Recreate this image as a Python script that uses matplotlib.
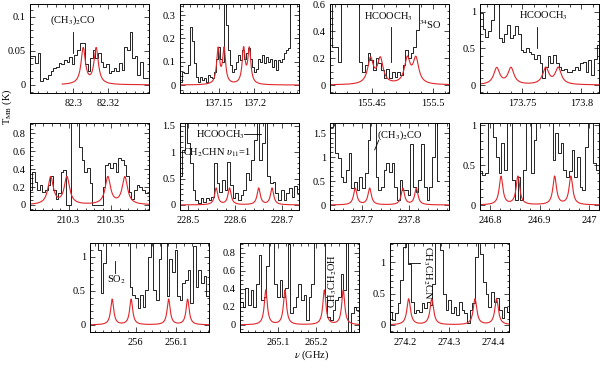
import numpy as np
import matplotlib
matplotlib.use("Agg")
import matplotlib.pyplot as plt
from matplotlib.ticker import FixedLocator, FixedFormatter, MultipleLocator

plt.rcParams["font.family"] = ["Liberation Serif", "DejaVu Serif"]
plt.rcParams["mathtext.fontset"] = "stix"
plt.rcParams["font.size"] = 7.5

# observed spectra: first channel edge (GHz), channel width (GHz), T_MB values (K)
freq_start = [82.2752, 137.0954, 155.4158, 173.714, 210.2538, 228.4807,
              237.632, 246.7796, 255.887, 265.0, 274.164]
chan_width = [0.0015, 0.0028, 0.0022, 0.0023, 0.00308, 0.0057,
              0.0057, 0.00544, 0.00655, 0.00696, 0.00606]

tmb_82 = [0.042, 0.042, 0.032, 0.047, 0.005, 0.010, 0.008, 0.015, 0.020, 0.025,
          0.027, 0.032, 0.030, 0.037, 0.034, 0.041, 0.030, 0.044, 0.051, 0.061,
          0.062, 0.030, 0.020, 0.039, 0.051, 0.039, 0.047, 0.034, 0.027, 0.030,
          0.017, 0.020, 0.025, 0.020, 0.032, 0.022, 0.056, 0.051, 0.078, 0.039,
          0.042, 0.015, 0.034, 0.010, 0.010]
tmb_137 = [0.014, 0.057, 0.05, 0.05, 0.086, 0.25, 0.19, 0.093, 0.036, 0.014,
           0.036, 0.021, 0.029, 0.014, 0.043, 0.036, 0.029, 0.057, 0.114, 0.164,
           0.114, 0.1, 0.5, 0.26, 0.15, 0.086, 0.057, 0.071, 0.1, 0.129,
           0.107, 0.15, 0.114, 0.136, 0.157, 0.114, 0.079, 0.057, 0.071, 0.114,
           0.1, 0.129, 0.093, 0.121, 0.1, 0.114, 0.079, 0.107, 0.064, 0.107,
           0.1, 0.114, 0.136, 0.15, 0.157, 0.5, 0.5, 0.5, 0.5, 0.5]
tmb_155 = [1, 0.28, 0.28, 0.17, 1, 1, 1, 1, 1, 1, 1, 0.17, 0.1, 0.15, 0.235,
           0.185, 0.11, 0.2, 0.16, 0.11, 0.05, 0.12, 0.05, 0.1, 0.06, 0.1,
           0.074, 0.15, 0.26, 0.2, 0.235, 0.28, 0.41, 1, 1, 1, 1, 1, 1, 1, 1,
           1, 1, 1, 1]
tmb_173 = [0.98, 0.77, 0.66, 0.73, 0.89, 1.2, 1.2, 0.64, 0.59, 0.70, 0.82, 0.64,
           0.68, 0.80, 0.70, 0.48, 0.45, 0.50, 0.45, 0.42, 0.36, 0.41, 0.30, 0.09,
           0.25, 0.39, 0.30, 0.41, 0.30, 0.25, 0.20, 0.22, 0.18, 0.18, 0.20, 0.25,
           0.21, 0.30, 0.32, 0.18, 0.34, 0.14, 0.36, 0.55, 0.80]
tmb_210 = [0.17, 0.37, 0.26, 0.17, 0.22, 0.15, 0.17, 0.22, 0.32, 0.17, 0.07, 0.13,
           0.37, 0.39, 0, 0, 2, 2, 2, 0.65, 0.5, 0.37, 0.41, 0.24, 0, 0, 0, 0,
           0.2, 0.45, 0.47, 0.41, 0.47, 0.37, 0.52, 0.5, 0.45, 0.32, 0.15, 0.07,
           0.17, 0.22, 0.2, 0.17, 0.13, 0.13]
tmb_228 = [0.54, 1.04, 2, 1.17, 0.79, 0.28, 0.09, 0.03, 0.13, 0.06, 0.13, 0.09,
           0.16, 0.79, 0.41, 0.25, 0.47, 0.28, 0.82, 0.38, 0.13, 0.22, 0.09, 0.19,
           0.28, 0.6, 0.47, 0.85, 1.23, 2, 0.85, 1.17, 2, 0.54, 0.41, 0.44, 0.22,
           0.09, 0.28, 0.09, 0.22, 0.32, 0.16, 0.35, 0.22]
tmb_237 = [1.63, 2, 1.08, 0.97, 0.59, 0.49, 0.73, 1.08, 0.35, 0.49, 0.31, 0.59,
           0.35, 0.66, 1.35, 2, 2, 0.59, 0.31, 0.38, 0.73, 0.87, 0.69, 0.87, 0.38,
           0.1, 0.52, 0.31, 0.31, 0.21, 1.28, 0.38, 0.28, 0.52, 1.28, 0.38, 0.1,
           0.38, 1.0, 2, 0.5]
tmb_246 = [0.42, 0.37, 0.4, 2, 2, 0.85, 0.6, 0.4, 0.77, 0.44, 2, 2, 0.31, 0.06,
           0.35, 0.06, 0.44, 2, 2, 0.4, 0.81, 2, 2, 2, 2, 2, 2, 0.56, 0.9, 0.65,
           0.77, 0.44, 0.35, 0.42, 0.69, 0.35, 0.6, 0.23, 0.19, 0.73, 2, 2, 0.52,
           0.44, 0.44]
tmb_256 = [2, 2, 2, 1.1, 0.47, 0.9, 2, 2, 2, 2, 2, 2, 2, 2, 2, 0.56, 0.44, 0.39,
           0.25, 0.44, 0.27, 0.51, 1.0, 2, 0.51, 0.37, 0.96, 2, 1.2, 0.42, 0.96,
           0.78, 1.1, 0.42, 0.37, 0.61, 0.66, 0.81, 0.32, 1.15, 0.56, 0.81, 0.61,
           0.71, 0.42, 0.51]
tmb_265 = [0.25, 0.2, 0.41, 0.22, 0.39, 0.2, 0.46, 0.78, 0.28, 0.31, 0.65, 2, 2,
           0.46, 0.31, 0.5, 0.31, 0.41, 0.9, 0.13, 0.2, 0.31, 0.46, 0.28, 0.33,
           0.06, 0.31, 0.46, 2, 2, 2, 2, 0.31, 0.09, 0.06, 0.17, 0.28, 0.31, 0.57,
           0.39, 2, -1, 0.13, 0.2, 0.17]
tmb_274 = [0.21, 0.08, 0.19, 0.35, 0.72, 1.25, 2, 0.98, 0.37, 0.19, 0.24, 0.21,
           0.35, 0.27, 0.37, 0.32, 0.66, 2, 2, 1.2, 0.5, 0.24, 0.4, 0.19, 0.29,
           0.16, 0.37, 0.24, 0.19, 0.03, 0.24, 0.35, 1.09, 2, 1.14, 0.69, 0.5,
           0.29, 0.53, 0.37, 0.43, 0.24, 0.11, 0.29, 0.21]

# model line list (GHz), peak (K) and half width (GHz) per panel
lines_82 = [82.3057, 82.3131]
lines_137 = [137.1492, 137.1576, 137.185, 137.193]
lines_155 = [155.449, 155.457, 155.479, 155.486]
lines_173 = [173.7282, 173.7403, 173.7698, 173.7804]
lines_210 = [210.2789, 210.298, 210.3462, 210.3662]
lines_228 = [228.5593, 228.5878, 228.650, 228.6786]
lines_237 = [237.6857, 237.7163, 237.7869, 237.8156]
lines_246 = [246.8224, 246.8565, 246.9306, 246.9633]
lines_256 = [255.942, 255.989, 256.082, 256.129]
lines_265 = [265.0679, 265.1183, 265.2219, 265.2715]
lines_274 = [274.2075, 274.260, 274.358, 274.407]
model_peak = [0.053, 0.15, 0.185, 0.225, 0.305, 0.315, 0.345, 0.355, 0.375, 0.385, 0.415]
model_width = [0.0015, 0.0025, 0.0028, 0.0031, 0.0038, 0.0041,
               0.0043, 0.0044, 0.0046, 0.0048, 0.0049]
model_from = [82.2937, None, None, None, None, None, None, None, None, None, None]

x_lims = [(82.275, 82.343), (137.095, 137.262), (155.416, 155.513), (173.714, 173.815),
          (210.254, 210.394), (228.481, 228.735), (237.632, 237.885), (246.78, 247.02),
          (255.887, 256.182), (265.0, 265.313), (274.164, 274.434)]
y_lims = [(-0.012, 0.119), (-0.034, 0.348), (-0.059, 0.6), (-0.109, 1.105),
          (-0.056, 0.913), (-0.095, 1.55), (-0.104, 1.71), (-0.062, 1.025),
          (-0.103, 1.2), (-0.078, 0.91), (-0.112, 1.31)]
x_ticks = [[82.3, 82.32], [137.15, 137.2], [155.45, 155.5], [173.75, 173.8],
           [210.3, 210.35], [228.5, 228.6, 228.7], [237.7, 237.8], [246.8, 246.9, 247],
           [256, 256.1], [265.1, 265.2], [274.2, 274.3, 274.4]]
y_ticks = [[0, 0.05, 0.1], [0, 0.1, 0.2, 0.3], [0, 0.2, 0.4, 0.6], [0, 0.5, 1],
           [0, 0.2, 0.4, 0.6, 0.8], [0, 0.5, 1, 1.5], [0, 0.5, 1, 1.5], [0, 0.5, 1],
           [0, 0.5, 1], [0, 0.2, 0.4, 0.6, 0.8], [0, 0.5, 1]]

spectra = [tmb_82, tmb_137, tmb_155, tmb_173, tmb_210, tmb_228,
           tmb_237, tmb_246, tmb_256, tmb_265, tmb_274]
model_lines = [lines_82, lines_137, lines_155, lines_173, lines_210, lines_228,
               lines_237, lines_246, lines_256, lines_265, lines_274]

W, H = 600.0, 368.0
lefts = [29.5, 179.5, 330, 480, 29.5, 179.5, 330, 480, 90, 240, 389.5]
bottoms = [93, 93, 93, 93, 210, 210, 210, 210, 332, 332, 332]
heights = [89, 89, 89, 89, 87, 87, 87, 87, 89, 89, 89]

red = "#e0262b"


def minor_step(step):
    lead = float("%.0e" % step)
    while lead >= 10:
        lead /= 10
    while lead < 1:
        lead *= 10
    return step / 4 if round(lead) == 2 else step / 5


fig = plt.figure(figsize=(6, 3.68), dpi=100)
axes = []
for i in range(11):
    ax = fig.add_axes([lefts[i] / W, 1 - bottoms[i] / H, 119 / W, heights[i] / H])
    axes.append(ax)
    vals = np.array(spectra[i])
    f = freq_start[i] + chan_width[i] * (np.arange(len(vals)) + 0.5)
    ax.step(f, vals, where="mid", color="k", lw=0.6)

    lo = model_from[i] if model_from[i] is not None else x_lims[i][0]
    nu = np.linspace(lo, x_lims[i][1], 1500)
    model = np.zeros_like(nu)
    for c in model_lines[i]:
        model += model_peak[i] / (1 + ((nu - c) / model_width[i]) ** 2)
    ax.plot(nu, model, color=red, lw=0.8)

    ax.set_xlim(*x_lims[i])
    ax.set_ylim(*y_lims[i])
    xt, yt = x_ticks[i], y_ticks[i]
    ax.xaxis.set_major_locator(FixedLocator(xt))
    ax.xaxis.set_major_formatter(FixedFormatter(["%g" % v for v in xt]))
    ax.yaxis.set_major_locator(FixedLocator(yt))
    ax.yaxis.set_major_formatter(FixedFormatter(["%g" % v for v in yt]))
    ax.xaxis.set_minor_locator(MultipleLocator(minor_step(round(xt[1] - xt[0], 6))))
    ax.yaxis.set_minor_locator(MultipleLocator(minor_step(yt[1] - yt[0])))
    ax.tick_params(which="both", direction="in", top=True, right=True, width=0.5)
    ax.tick_params(which="major", length=3.5)
    ax.tick_params(which="minor", length=1.8)
    ax.tick_params(axis="x", pad=4)
    ax.tick_params(axis="y", pad=3)
    for s in ax.spines.values():
        s.set_linewidth(0.7)

lab = dict(fontsize=7.5)
# annotations
ax = axes[0]
ax.text(82.3, 0.085, r"(CH$_3$)$_2$CO", ha="center", va="bottom", **lab)
ax.plot([82.3, 82.3], [0.047, 0.078], color="k", lw=0.6)
ax = axes[2]
ax.text(155.464, 0.46, r"HCOOCH$_3$", ha="center", va="bottom", **lab)
ax.plot([155.466, 155.466], [0.17, 0.43], color="k", lw=0.6)
ax.text(155.4975, 0.45, r"$^{34}$SO", ha="center", va="center", **lab)
ax = axes[3]
ax.text(173.768, 0.86, r"HCOOCH$_3$", ha="center", va="bottom", **lab)
ax.plot([173.7627, 173.7627], [0.5, 0.79], color="k", lw=0.6)
ax = axes[5]
ax.text(228.568, 1.33, r"HCOOCH$_3$", ha="center", va="center", **lab)
ax.plot([228.619, 228.654], [1.34, 1.34], color="k", lw=0.6)
ax.text(228.489, 0.98, r"CH$_2$CHN $\upsilon_{11}$=1", ha="left", va="center", **lab)
ax = axes[6]
ax.text(237.781, 1.46, r"(CH$_3$)$_2$CO", ha="center", va="center", **lab)
ax.plot([237.7356, 237.727], [1.35, 1.15], color="k", lw=0.6)
ax = axes[8]
ax.text(255.953, 0.66, r"SO$_2$", ha="center", va="center", **lab)
ax.plot([255.948, 255.948], [0.76, 0.93], color="k", lw=0.6)
ax = axes[9]
ax.text(265.245, 0.49, r"CH$_3$CH$_2$OH", rotation=90, ha="center", va="center", **lab)
ax = axes[10]
ax.text(274.249, 0.83, r"CH$_3$CH$_2$CN", rotation=270, ha="center", va="center", **lab)
ax.plot([274.2075, 274.234], [0.99, 0.99], color="k", lw=0.6)

fig.text(0.012, 0.71, r"T$_{\rm MB}$ (K)", rotation=90, ha="center", va="center", fontsize=7.5)
fig.text(0.52, 0.035, r"$\nu$ (GHz)", ha="center", va="center", fontsize=7.5)

fig.savefig("out.png", dpi=100)
